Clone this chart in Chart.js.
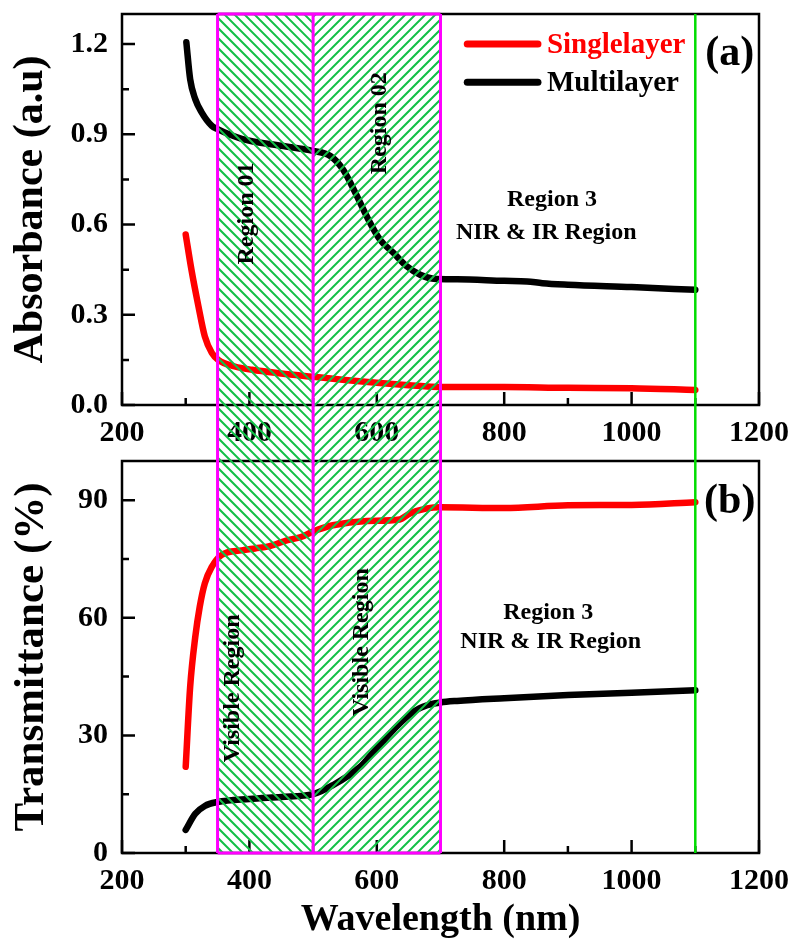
<!DOCTYPE html>
<html>
<head>
<meta charset="utf-8">
<script src="https://cdn.jsdelivr.net/npm/chart.js@4.4.0/dist/chart.umd.min.js"></script>
<style>
  html, body { margin: 0; padding: 0; background: #fff; }
  #wrap { position: relative; width: 793px; height: 943px; }
  canvas { position: absolute; left: 0; }
  #cA { top: 0; }
  #cB { top: 455px; }
</style>
</head>
<body>
<div id="wrap">
  <canvas id="cA" width="793" height="455"></canvas>
  <canvas id="cB" width="793" height="488"></canvas>
</div>
<script>
/* DATA */
// (a) absorbance
const absSingleWl = [300, 309, 320, 330, 341, 351, 377, 404, 450, 500, 550, 600, 650, 700, 800, 900, 1000, 1100];
const absSingle   = [0.567, 0.45, 0.328, 0.228, 0.173, 0.15, 0.128, 0.117, 0.105, 0.094, 0.083, 0.074, 0.066, 0.06, 0.06, 0.057, 0.056, 0.05];
const absMultiWl  = [301, 307, 315, 325, 341, 350, 388, 450, 500, 527, 547, 569, 584, 605, 626, 647, 668, 689, 726, 800, 836, 860, 900, 1000, 1100];
const absMulti    = [1.206, 1.083, 1.017, 0.973, 0.928, 0.917, 0.885, 0.862, 0.845, 0.828, 0.783, 0.694, 0.628, 0.55, 0.506, 0.461, 0.433, 0.42, 0.418, 0.413, 0.411, 0.405, 0.40, 0.392, 0.383];

// (b) transmittance
const trSingleWl = [300, 307, 315, 322, 330, 341, 356, 388, 409, 430, 460, 481, 500, 531, 584, 636, 652, 679, 700, 800, 900, 1000, 1100];
const trSingle   = [22, 42.4, 55.1, 62.8, 68.8, 73, 76, 77.2, 77.7, 78.2, 79.8, 80.6, 82, 83.6, 84.7, 85.1, 86.6, 87.9, 88.2, 88, 88.7, 88.8, 89.5];
const trMultiWl  = [300, 315, 330, 350, 400, 450, 500, 531, 574, 595, 626, 657, 679, 700, 726, 800, 900, 1000, 1100];
const trMulti    = [5.9, 10, 12, 13, 13.8, 14.3, 15, 17.3, 22, 25.8, 31.4, 36, 37.7, 38.4, 38.8, 39.5, 40.3, 40.9, 41.5];

// ticks
const xTicks   = [200, 400, 600, 800, 1000, 1200];
const xMinor   = [300, 500, 700, 900, 1100];
const absTicks = [0, 0.3, 0.6, 0.9, 1.2];
const absMinor = [0.15, 0.45, 0.75, 1.05];
const trTicks  = [0, 30, 60, 90];
const trMinor  = [15, 45, 75];

// regions
const regionEdges = [350, 500, 700];
const nirEdge = 1100;
const seriesNames = ['Singlelayer', 'Multilayer'];

/* STYLE */
const FONT = '"Liberation Serif", "Times New Roman", serif';
const RED = '#ff0000', BLACK = '#000000';
const HATCH = '#12c046', MAGENTA = '#ff00ff', GREEN = '#00dd00';
const SPLIT = 455;      // y where panel (b) canvas starts
const HATCH_STEP = 10;

const pts = (xs, ys) => xs.map((x, i) => ({ x, y: ys[i] }));

function hatch(ctx, x0, x1, y0, y1, dir, offY) {
  ctx.save();
  ctx.beginPath();
  ctx.rect(x0, y0, x1 - x0, y1 - y0);
  ctx.clip();
  ctx.strokeStyle = HATCH;
  ctx.lineWidth = 2;
  ctx.beginPath();
  if (dir === '\\') {
    // global: y - x = c
    const cmin = Math.floor((y0 + offY - x1) / HATCH_STEP) * HATCH_STEP;
    const cmax = y1 + offY - x0;
    for (let c = cmin; c <= cmax; c += HATCH_STEP) {
      ctx.moveTo(x0, x0 + c - offY);
      ctx.lineTo(x1, x1 + c - offY);
    }
  } else {
    // global: y + x = c
    const cmin = Math.floor((y0 + offY + x0) / HATCH_STEP) * HATCH_STEP;
    const cmax = y1 + offY + x1;
    for (let c = cmin; c <= cmax; c += HATCH_STEP) {
      ctx.moveTo(x0, c - x0 - offY);
      ctx.lineTo(x1, c - x1 - offY);
    }
  }
  ctx.stroke();
  ctx.restore();
}

function text(ctx, str, x, y, size, color, rot) {
  ctx.save();
  ctx.translate(x, y);
  if (rot) ctx.rotate(rot);
  ctx.font = 'bold ' + size + 'px ' + FONT;
  ctx.fillStyle = color;
  ctx.textAlign = 'center';
  ctx.textBaseline = 'middle';
  ctx.fillText(str, 0, 0);
  ctx.restore();
}

/* per-panel decoration plugin */
function panelPlugin(cfg) {
  return {
    id: 'panel' + cfg.tag,
    afterDraw(chart) {
      const { ctx, chartArea: a, scales: { x, y } } = chart;
      const X = v => x.getPixelForValue(v), Y = v => y.getPixelForValue(v);

      // frame
      ctx.save();
      ctx.strokeStyle = BLACK;
      ctx.lineWidth = 2.5;
      ctx.strokeRect(a.left, a.top, a.right - a.left, a.bottom - a.top);

      // inward ticks
      ctx.beginPath();
      xTicks.forEach(v => { ctx.moveTo(X(v), a.bottom); ctx.lineTo(X(v), a.bottom - 13); });
      xMinor.forEach(v => { ctx.moveTo(X(v), a.bottom); ctx.lineTo(X(v), a.bottom - 7); });
      cfg.yTicks.forEach(v => { ctx.moveTo(a.left, Y(v)); ctx.lineTo(a.left + 13, Y(v)); });
      cfg.yMinor.forEach(v => { ctx.moveTo(a.left, Y(v)); ctx.lineTo(a.left + 7, Y(v)); });
      ctx.stroke();
      ctx.restore();

      // hatched regions spanning both panels
      const y0 = cfg.tag === 'a' ? a.top : 0;
      const y1 = cfg.tag === 'a' ? chart.height : a.bottom;
      const xs = regionEdges.map(X);
      hatch(ctx, xs[0], xs[1], y0, y1, '\\', cfg.offY);
      hatch(ctx, xs[1], xs[2], y0, y1, '/', cfg.offY);

      ctx.save();
      ctx.strokeStyle = MAGENTA;
      ctx.lineWidth = 3;
      ctx.beginPath();
      xs.forEach(px => { ctx.moveTo(px, y0); ctx.lineTo(px, y1); });
      const yEdge = cfg.tag === 'a' ? a.top : a.bottom;
      ctx.moveTo(xs[0], yEdge); ctx.lineTo(xs[2], yEdge);
      ctx.stroke();

      ctx.strokeStyle = GREEN;
      ctx.lineWidth = 2.5;
      ctx.beginPath();
      ctx.moveTo(X(nirEdge), y0); ctx.lineTo(X(nirEdge), y1);
      ctx.stroke();
      ctx.restore();

      // annotations
      cfg.notes.forEach(n => text(ctx, n.t, X(n.x), Y(n.y), n.size, n.color || BLACK, n.rot || 0));

      // legend
      if (cfg.legend) {
        const L = cfg.legend;
        chart.data.datasets.forEach((ds, i) => {
          const ly = Y(L.y[i]);
          ctx.save();
          ctx.strokeStyle = ds.borderColor;
          ctx.lineWidth = 7;
          ctx.lineCap = 'round';
          ctx.beginPath();
          ctx.moveTo(X(L.x0), ly); ctx.lineTo(X(L.x1), ly);
          ctx.stroke();
          ctx.font = 'bold 29px ' + FONT;
          ctx.fillStyle = ds.borderColor;
          ctx.textAlign = 'left';
          ctx.textBaseline = 'middle';
          ctx.fillText(ds.label, X(L.tx), ly + 1);
          ctx.restore();
        });
      }
    }
  };
}

function lineDs(label, data, color) {
  return {
    label, data, borderColor: color, backgroundColor: color,
    borderWidth: 6.5, pointRadius: 0, fill: false,
    cubicInterpolationMode: 'monotone',
    borderCapStyle: 'round', borderJoinStyle: 'round'
  };
}

function makePanel(canvasId, cfg) {
  return new Chart(document.getElementById(canvasId), {
    type: 'line',
    data: {
      datasets: [
        lineDs(seriesNames[0], cfg.single, RED),
        lineDs(seriesNames[1], cfg.multi, BLACK)
      ]
    },
    options: {
      responsive: false,
      animation: false,
      layout: { padding: { top: cfg.padTop, right: 34, left: 0, bottom: 0 } },
      plugins: { legend: { display: false }, tooltip: { enabled: false } },
      scales: {
        x: {
          type: 'linear', min: 200, max: 1200,
          afterBuildTicks: s => { s.ticks = xTicks.map(v => ({ value: v })); },
          afterFit: s => { s.height = cfg.xHeight; s.paddingLeft = 0; s.paddingRight = 0; },
          grid: { display: false, drawTicks: false },
          border: { display: false },
          ticks: {
            padding: 10, color: BLACK, maxRotation: 0, autoSkip: false,
            font: { family: FONT, size: 30, weight: 'bold' },
            callback: v => String(v)
          },
          title: {
            display: !!cfg.xTitle, text: cfg.xTitle || '', color: BLACK,
            padding: { top: 0, bottom: 0 },
            font: { family: FONT, size: 38, weight: 'bold' }
          }
        },
        y: {
          type: 'linear', min: cfg.yMin, max: cfg.yMax,
          afterBuildTicks: s => { s.ticks = cfg.yTicks.map(v => ({ value: v })); },
          afterFit: s => { s.width = 122; s.paddingTop = 0; s.paddingBottom = 0; },
          grid: { display: false, drawTicks: false },
          border: { display: false },
          ticks: {
            padding: 14, color: BLACK, autoSkip: false,
            font: { family: FONT, size: 30, weight: 'bold' },
            callback: v => cfg.fmt(v)
          },
          title: {
            display: true, text: cfg.yTitle, color: BLACK,
            padding: { top: 6, bottom: 0 },
            font: { family: FONT, size: cfg.yTitleSize, weight: 'bold' }
          }
        }
      }
    },
    plugins: [panelPlugin(cfg)]
  });
}

makePanel('cA', {
  tag: 'a', offY: 0, padTop: 14, xHeight: 50,
  single: pts(absSingleWl, absSingle), multi: pts(absMultiWl, absMulti),
  yMin: 0, yMax: 1.3, yTicks: absTicks, yMinor: absMinor,
  fmt: v => v.toFixed(1),
  yTitle: 'Absorbance (a.u)', yTitleSize: 42,
  legend: { x0: 742, x1: 853, tx: 867, y: [1.2, 1.073] },
  notes: [
    { t: 'Region 01', x: 396, y: 0.637, size: 24, rot: -Math.PI / 2 },
    { t: 'Region 02', x: 605, y: 0.937, size: 24, rot: -Math.PI / 2 },
    { t: 'Region 3', x: 875, y: 0.683, size: 24 },
    { t: 'NIR & IR Region', x: 866, y: 0.573, size: 24 },
    { t: '(a)', x: 1154, y: 1.167, size: 42 }
  ]
});

makePanel('cB', {
  tag: 'b', offY: SPLIT, padTop: 6, xHeight: 90,
  single: pts(trSingleWl, trSingle), multi: pts(trMultiWl, trMulti),
  yMin: 0, yMax: 100, yTicks: trTicks, yMinor: trMinor,
  fmt: v => String(v),
  yTitle: 'Transmittance (%)', yTitleSize: 43,
  xTitle: 'Wavelength (nm)',
  notes: [
    { t: 'Visible Region', x: 374, y: 42, size: 24, rot: -Math.PI / 2 },
    { t: 'Visible Region', x: 577, y: 53.8, size: 24, rot: -Math.PI / 2 },
    { t: 'Region 3', x: 869, y: 61.2, size: 24 },
    { t: 'NIR & IR Region', x: 873, y: 53.8, size: 24 },
    { t: '(b)', x: 1154, y: 89.5, size: 42 }
  ]
});
</script>
</body>
</html>
